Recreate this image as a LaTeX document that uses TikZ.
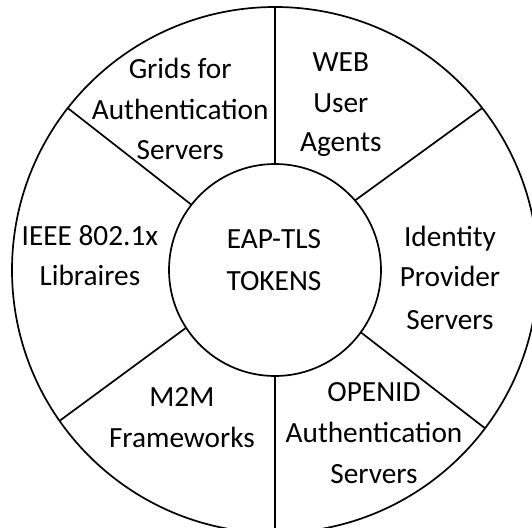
\documentclass[tikz,border=0pt]{standalone}
\usepackage{fontspec}
\setmainfont{Carlito}
\begin{document}
\begin{tikzpicture}[x=1pt,y=-1pt,
  ring/.style={draw=black,line width=1.7pt},
  disc/.style={circle,ring,inner sep=0pt,outer sep=0pt},
  lbl/.style={anchor=base,font=\fontsize{29.3}{35}\selectfont,inner sep=0pt}]
\useasboundingbox (0,0) rectangle (532,527);
\clip (0,0) rectangle (532,527);
\coordinate (c) at (275,270);
% outer ring and central hub
\node[disc,minimum size=526pt] (outer) at (c) {};
\node[disc,minimum size=212pt] (inner) at (c) {};
% spokes dividing the ring into six sectors
\draw[ring] (outer.90) -- (inner.90);
\draw[ring] (inner.270) -- (outer.270);
\draw[ring] (outer.142.7) -- (inner.142);
\draw[ring] (outer.38.9) -- (inner.41.9);
\draw[ring] (outer.215.6) -- (inner.213.3);
\draw[ring] (outer.323.9) -- (inner.324.4);
% hub text
\node[lbl] (hub1) at (274,248.4) {EAP-TLS};
\node[lbl] (hub2) at (274,290.8) {TOKENS};
% sector texts
\node[lbl] (gr1) at (180.2,78) {Grids for};
\node[lbl] (gr2) at (180.2,119.4) {Authentication};
\node[lbl] (gr3) at (180.2,159.5) {Servers};
\node[lbl] (web1) at (340.8,71.3) {WEB};
\node[lbl] (web2) at (340.8,112) {User};
\node[lbl] (web3) at (340.8,151) {Agents};
\node[lbl] (ieee1) at (89.9,245) {IEEE 802.1x};
\node[lbl] (ieee2) at (89.9,285.7) {Libraires};
\node[lbl] (idp1) at (450,246) {Identity};
\node[lbl] (idp2) at (450,286.7) {Provider};
\node[lbl] (idp3) at (450,329) {Servers};
\node[lbl] (m2m1) at (181.9,406.5) {M2M};
\node[lbl] (m2m2) at (181.9,447.2) {Frameworks};
\node[lbl] (oid1) at (374,401.4) {OPENID};
\node[lbl] (oid2) at (374,442.8) {Authentication};
\node[lbl] (oid3) at (374,483.5) {Servers};
\end{tikzpicture}
\end{document}
